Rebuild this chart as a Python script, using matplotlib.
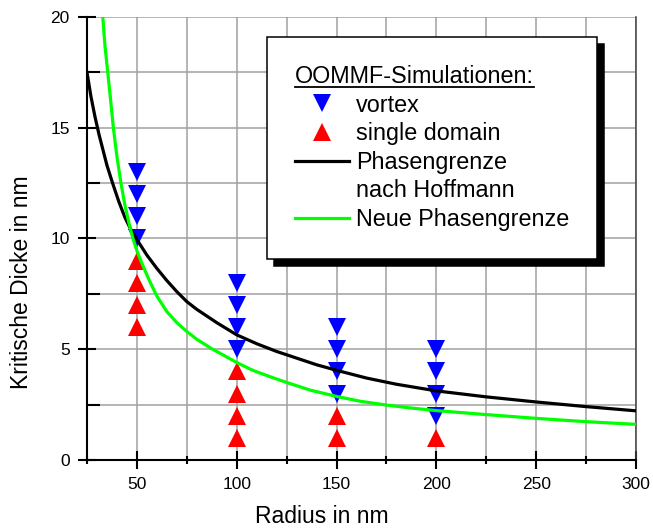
import matplotlib
matplotlib.use("Agg")
import matplotlib.pyplot as plt
from matplotlib.lines import Line2D

plt.rcParams['font.family'] = ['Liberation Sans', 'DejaVu Sans']

# OOMMF results: radius (nm) and thickness (nm) of each simulated disc
vortex_r = [50, 50, 50, 50, 100, 100, 100, 100, 150, 150, 150, 150, 200, 200, 200, 200]
vortex_d = [13, 12, 11, 10, 8, 7, 6, 5, 6, 5, 4, 3, 5, 4, 3, 2]
single_r = [50, 50, 50, 50, 100, 100, 100, 100, 150, 150, 200]
single_d = [9, 8, 7, 6, 4, 3, 2, 1, 2, 1, 1]

# phase boundary after Hoffmann
hoff_r = [25, 27, 29, 31, 33, 35, 38, 41, 44, 47, 50, 55, 60, 65, 70, 75, 80, 90,
          100, 110, 120, 130, 140, 150, 165, 180, 200, 225, 250, 275, 300]
hoff_d = [17.5, 16.4, 15.5, 14.7, 14.0, 13.3, 12.45, 11.65, 10.95, 10.4, 9.95, 9.25, 8.65,
          8.1, 7.6, 7.15, 6.8, 6.2, 5.65, 5.25, 4.9, 4.6, 4.3, 4.05, 3.7, 3.42, 3.12,
          2.85, 2.62, 2.41, 2.22]

# new phase boundary
neu_r = [32.9, 34, 35.4, 37, 38.2, 40, 42, 44, 46, 48, 50, 52.4, 56, 60, 65, 70, 75, 80,
         87, 94, 100, 108, 117, 125, 137, 150, 162, 175, 187, 200, 225, 250, 275, 300]
neu_d = [20.0, 18.7, 17.5, 16.1, 15.0, 13.7, 12.5, 11.5, 10.7, 10.0, 9.45, 8.9, 8.15,
         7.4, 6.7, 6.2, 5.8, 5.45, 5.05, 4.7, 4.4, 4.05, 3.75, 3.5, 3.15, 2.87, 2.65,
         2.48, 2.35, 2.23, 2.05, 1.88, 1.73, 1.61]

fig = plt.figure(figsize=(6.53, 5.29), dpi=100)
ax = fig.add_axes([87/653, 69/529, 549/653, 443/529])

ax.plot(vortex_r, vortex_d, linestyle='none', marker='v', ms=12.5, mew=0,
        color='#0000ff', zorder=3, clip_on=False)
ax.plot(single_r, single_d, linestyle='none', marker='^', ms=12.5, mew=0,
        color='#ff0000', zorder=3, clip_on=False)
ax.plot(hoff_r, hoff_d, color='black', lw=2.3, zorder=4, solid_joinstyle='round')
ax.plot(neu_r, neu_d, color='#00ff00', lw=2.3, zorder=4, solid_joinstyle='round')

ax.set_xlim(25, 300)
ax.set_ylim(0, 20)
ax.set_xticks([50, 100, 150, 200, 250, 300])
ax.set_xticks([25, 75, 125, 175, 225, 275], minor=True)
ax.set_yticks([0, 5, 10, 15, 20])
ax.set_yticks([2.5, 7.5, 12.5, 17.5], minor=True)
ax.grid(which='both', color='#a0a0a0', lw=1.1)
ax.set_axisbelow(True)

for s in ['left', 'bottom']:
    ax.spines[s].set_linewidth(1.5)
ax.spines['top'].set_visible(False)
ax.spines['right'].set_color('#404040')
ax.spines['right'].set_linewidth(1.1)

ax.tick_params(which='major', direction='inout', length=13, width=1.5, labelsize=12.5,
               pad=6, right=False, top=False)
ax.tick_params(axis='x', which='minor', direction='inout', length=6, width=1.5)
ax.tick_params(axis='y', which='minor', direction='in', length=9, width=1.5)

ax.set_xlabel('Radius in nm', fontsize=16.5)
ax.set_ylabel('Kritische Dicke in nm', fontsize=16.5)
ax.xaxis.set_label_coords((322 - 87) / 549, -45 / 443)
ax.yaxis.set_label_coords(-54 / 549, (460 - 282) / 443)

handles = [
    Line2D([], [], linestyle='none', marker='v', ms=12.5, mew=0, color='#0000ff'),
    Line2D([], [], linestyle='none', marker='^', ms=12.5, mew=0, color='#ff0000'),
    Line2D([], [], color='black', lw=2.3),
    Line2D([], [], linestyle='none'),
    Line2D([], [], color='#00ff00', lw=2.3),
]
labels = ['vortex', 'single domain', 'Phasengrenze', 'nach Hoffmann', 'Neue Phasengrenze']
leg = ax.legend(handles, labels, loc='upper left', bbox_to_anchor=((267 - 87) / 549, (460 - 37) / 443),
                borderaxespad=0, fontsize=16.8, title='OOMMF-Simulationen:', title_fontsize=16.8,
                alignment='left', fancybox=False, framealpha=1, edgecolor='black',
                shadow={'color': 'black', 'alpha': 1, 'ox': 5, 'oy': -5},
                borderpad=1.2, labelspacing=0.24, handlelength=2.3, handletextpad=0.3,
                numpoints=1)
leg.get_frame().set_linewidth(1.1)
leg.set_zorder(10)

# underline the legend title
fig.canvas.draw()
bb = leg.get_title().get_window_extent().transformed(fig.transFigure.inverted())
fig.add_artist(Line2D([bb.x0, bb.x1], [bb.y0 + 1/529, bb.y0 + 1/529], color='black', lw=1.3,
                      transform=fig.transFigure, zorder=20))

fig.savefig('out.png', dpi=100)
